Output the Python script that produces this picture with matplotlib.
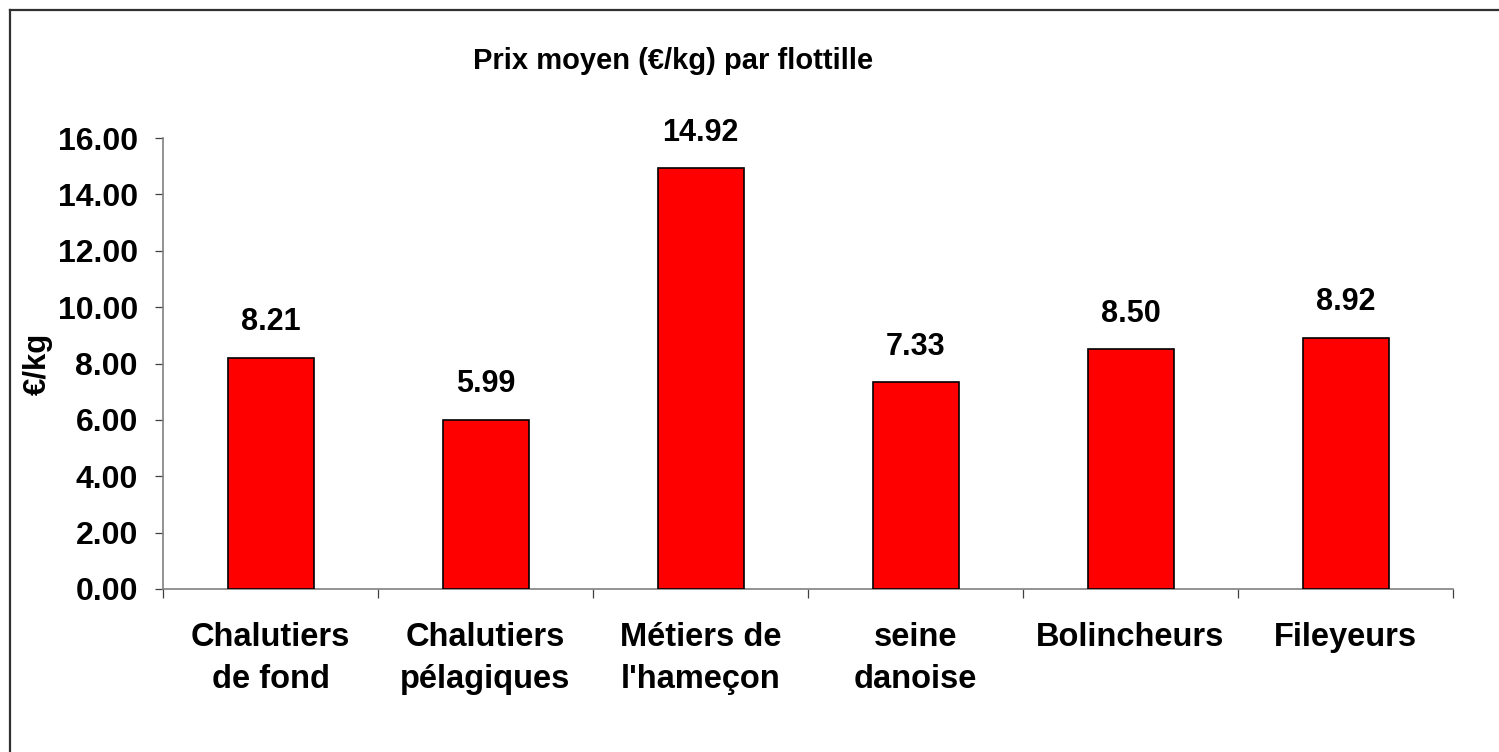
import numpy as np
import matplotlib
matplotlib.use("Agg")
import matplotlib.pyplot as plt
import matplotlib.ticker as mticker
from matplotlib.lines import Line2D

# données
flottilles = ["Chalutiers\nde fond", "Chalutiers\npélagiques", "Métiers de\nl'hameçon",
              "seine\ndanoise", "Bolincheurs", "Fileyeurs"]
prix = [8.21, 5.99, 14.92, 7.33, 8.50, 8.92]

plt.rcParams["font.family"] = ["Liberation Sans", "DejaVu Sans"]
plt.rcParams["font.weight"] = "bold"

fig = plt.figure(figsize=(14.99, 7.52), dpi=100)
fig.patch.set_facecolor("white")

# cadre du graphique (bords gauche et haut visibles)
fig.add_artist(Line2D([9.5 / 1499, 9.5 / 1499], [0, 1 - 9.5 / 752],
                      transform=fig.transFigure, color="#303030", lw=1.6))
fig.add_artist(Line2D([9.5 / 1499, 1], [1 - 9.5 / 752, 1 - 9.5 / 752],
                      transform=fig.transFigure, color="#303030", lw=1.6))

ax = fig.add_axes([163 / 1499, 1 - 589 / 752, 1290 / 1499, 451 / 752])

x = np.arange(len(prix))
bars = ax.bar(x, prix, width=0.4, color="#FF0000", edgecolor="black", linewidth=1.2, zorder=3)

ax.set_xlim(-0.5, len(prix) - 0.5)
ax.set_ylim(0, 16)
ax.yaxis.set_major_locator(mticker.MultipleLocator(2))
ax.yaxis.set_major_formatter(mticker.FormatStrFormatter("%.2f"))

# ticks x : traits aux limites, étiquettes au centre
ax.set_xticks(np.arange(-0.5, len(prix), 1.0))
ax.set_xticklabels([])
ax.set_xticks(x, minor=True)
ax.set_xticklabels(flottilles, minor=True, fontsize=23.5, fontweight="bold",
                   linespacing=1.45)
ax.tick_params(axis="x", which="major", length=6.5, width=0.9, color="#404040",
               direction="out")
ax.tick_params(axis="x", which="minor", length=0, pad=24)
ax.tick_params(axis="y", length=6, width=0.9, color="#404040", pad=12,
               labelsize=23)
for lbl in ax.get_yticklabels():
    lbl.set_fontweight("bold")

for s in ["top", "right"]:
    ax.spines[s].set_visible(False)
for s in ["left", "bottom"]:
    ax.spines[s].set_color("#808080")
    ax.spines[s].set_linewidth(1.2)

ax.bar_label(bars, labels=[f"{v:.2f}" for v in prix], padding=15,
             fontsize=22, fontweight="bold")

ax.set_ylabel("€/kg", fontsize=22.5, fontweight="bold")
ax.yaxis.set_label_coords(-0.085, 0.5)

fig.text(673 / 1499, 1 - 61 / 752, "Prix moyen (€/kg) par flottille",
         ha="center", va="center", fontsize=21, fontweight="bold")

fig.savefig("out.png", dpi=100, facecolor="white")
